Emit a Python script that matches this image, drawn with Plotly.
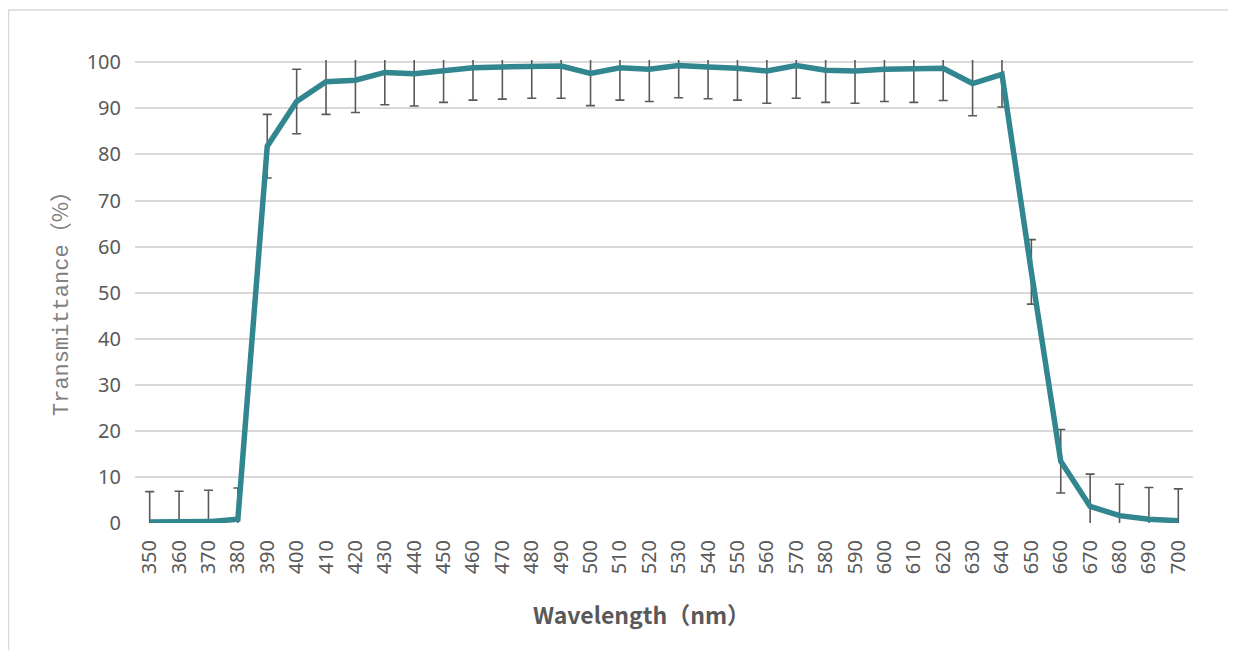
import plotly.graph_objects as go

wavelength = [350, 360, 370, 380, 390, 400, 410, 420, 430, 440, 450, 460, 470, 480,
              490, 500, 510, 520, 530, 540, 550, 560, 570, 580, 590, 600, 610, 620,
              630, 640, 650, 660, 670, 680, 690, 700]
transmittance = [0.2, 0.2, 0.3, 0.8, 81.8, 91.5, 95.8, 96.1, 97.8, 97.5, 98.3, 98.8,
                 99.0, 99.2, 99.2, 97.6, 98.8, 98.5, 99.3, 99.0, 98.7, 98.1, 99.3, 98.3,
                 98.1, 98.5, 98.5, 98.7, 95.4, 97.4, 54.5, 13.4, 3.6, 1.6, 0.8, 0.5]
error = [6.6, 6.7, 6.8, 6.8, 6.9, 7.0, 7.1, 7.0, 7.0, 7.0, 7.0, 7.0, 7.0, 7.0, 7.0,
         7.0, 7.0, 7.0, 7.0, 6.9, 6.9, 7.0, 7.1, 7.0, 7.0, 7.0, 7.2, 7.0, 7.0, 7.1,
         7.0, 6.9, 7.0, 6.8, 6.9, 6.9]
tick_labels = [str(w) for w in wavelength]
y_ticks = [0, 10, 20, 30, 40, 50, 60, 70, 80, 90, 100]

# page has an 8px body margin; work in page coordinates
OFF = 8
W, H = 1236 - OFF, 650 - OFF
L, R, T, B = 135 - OFF, 43, 60 - OFF, 127
pw, ph = W - L - R, H - T - B

def px(x):
    return (x - OFF - L) / pw

def py(y):
    return (H - B - (y - OFF)) / ph

fig = go.Figure()
fig.add_trace(go.Scatter(
    x=wavelength, y=transmittance, mode="markers",
    marker=dict(size=0.1, color="rgba(0,0,0,0)"),
    error_y=dict(type="data", array=error, visible=True, color="#595959",
                 thickness=1.6, width=4.5),
    showlegend=False, hoverinfo="skip"))
fig.add_trace(go.Scatter(
    x=wavelength, y=transmittance, mode="lines",
    line=dict(color="#31868F", width=5.5), showlegend=False))

fig.update_layout(
    width=W, height=H,
    margin=dict(l=L, r=R, t=T, b=B),
    paper_bgcolor="white", plot_bgcolor="white",
    font=dict(family="Noto Sans", color="#595959"),
    xaxis=dict(range=[345, 705], tickmode="array", tickvals=wavelength,
               ticktext=tick_labels, tickangle=-90, showgrid=False,
               zeroline=False, showline=False, ticks="", ticklabelstandoff=12,
               tickfont=dict(size=20, color="#595959")),
    yaxis=dict(range=[0, 100.5], tickmode="array", tickvals=y_ticks,
               showgrid=True, gridcolor="#D9D9D9", gridwidth=1.5,
               zeroline=False, showline=False, ticks="", ticklabelstandoff=13,
               tickfont=dict(size=20, color="#595959")),
    annotations=[
        dict(text="Transmittance<span style='font-family:Noto Sans CJK SC'>（%）</span>",
             textangle=-90, x=px(58), y=py(298),
             xref="paper", yref="paper", showarrow=False, xanchor="center",
             yanchor="middle",
             font=dict(family="Liberation Mono", size=22, color="#808080")),
        dict(text="<b>Wavelength（nm）</b>", x=px(641), y=py(614),
             xref="paper", yref="paper", showarrow=False, xanchor="center",
             yanchor="middle",
             font=dict(family="Noto Sans CJK SC", size=23, color="#595959")),
    ],
    shapes=[
        dict(type="line", xref="paper", yref="paper", x0=px(8.5), x1=px(8.5),
             y0=py(10), y1=py(652), line=dict(color="#D9D9D9", width=1.5)),
        dict(type="line", xref="paper", yref="paper", x0=px(8), x1=px(1236),
             y0=py(10), y1=py(10), line=dict(color="#D9D9D9", width=1.5)),
        dict(type="line", xref="paper", yref="paper", x0=px(1234), x1=px(1234),
             y0=py(10), y1=py(652), line=dict(color="#EEEEEE", width=1)),
    ],
)

fig.write_html("out.html")
